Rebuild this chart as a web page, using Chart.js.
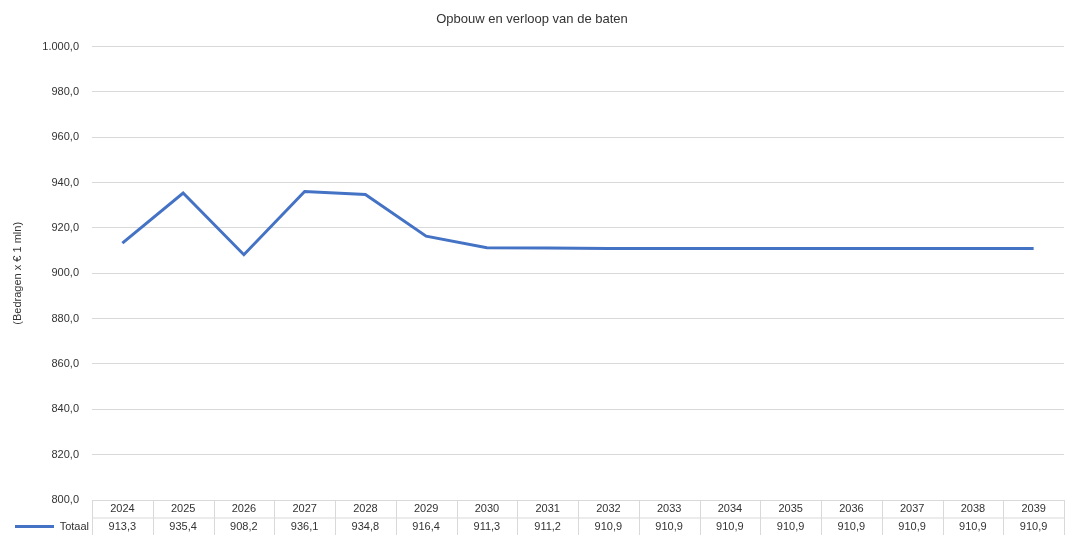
<!DOCTYPE html>
<html>
<head>
<meta charset="utf-8">
<script src="https://cdn.jsdelivr.net/npm/chart.js@4"></script>
<style>
  html, body { margin: 0; padding: 0; background: #fff; }
  #wrap { width: 1065px; height: 535px; }
</style>
</head>
<body>
<div id="wrap"><canvas id="myChart"></canvas></div>
<script>
// data
var years = ['2024', '2025', '2026', '2027', '2028', '2029', '2030', '2031',
             '2032', '2033', '2034', '2035', '2036', '2037', '2038', '2039'];
var totaal = [913.3, 935.4, 908.2, 936.1, 934.8, 916.4, 911.3, 911.2,
              910.9, 910.9, 910.9, 910.9, 910.9, 910.9, 910.9, 910.9];
var seriesName = 'Totaal';
var yMin = 800, yMax = 1000, yStep = 20;

var lineColor = '#4472C4';
var textColor = '#333333';
var gridColor = '#d9d9d9';

// dutch number format: 1.000,0
function fmt(v) {
    var s = Number(v).toFixed(1).split('.');
    var intPart = s[0].replace(/\B(?=(\d{3})+(?!\d))/g, '.');
    return intPart + ',' + s[1];
}

// draws the data table under the plot, column positions come from the x scale
var dataTable = {
    id: 'dataTable',
    afterDraw: function (chart) {
        var c = chart.ctx;
        var x = chart.scales.x;
        var area = chart.chartArea;
        var colW = area.width / years.length;
        var top = area.bottom;
        var mid = top + 17.5;
        var bot = top + 35;

        c.save();
        c.strokeStyle = gridColor;
        c.lineWidth = 1;
        c.beginPath();
        c.moveTo(area.left, top + 0.5);
        c.lineTo(area.right, top + 0.5);
        c.moveTo(area.left, mid + 0.5);
        c.lineTo(area.right, mid + 0.5);
        for (var i = 0; i <= years.length; i++) {
            var bx = Math.round(area.left + i * colW) + 0.5;
            c.moveTo(bx, top);
            c.lineTo(bx, bot);
        }
        c.stroke();

        c.fillStyle = textColor;
        c.font = '11px "Liberation Sans", Arial, sans-serif';
        c.textAlign = 'center';
        c.textBaseline = 'middle';
        for (var j = 0; j < years.length; j++) {
            var cx = x.getPixelForValue(j);
            c.fillText(years[j], cx, top + 9);
            c.fillText(fmt(totaal[j]), cx, mid + 9);
        }

        // legend key
        c.strokeStyle = lineColor;
        c.lineWidth = 3;
        c.beginPath();
        c.moveTo(15, mid + 9);
        c.lineTo(54, mid + 9);
        c.stroke();
        c.textAlign = 'right';
        c.fillText(seriesName, area.left - 3, mid + 9);
        c.restore();
    }
};

var ctx = document.getElementById('myChart').getContext('2d');
var chart = new Chart(ctx, {
    type: 'line',
    data: {
        labels: years,
        datasets: [{
            label: seriesName,
            data: totaal,
            borderColor: lineColor,
            backgroundColor: lineColor,
            borderWidth: 3,
            pointRadius: 0,
            tension: 0
        }]
    },
    options: {
        responsive: true,
        maintainAspectRatio: false,
        animation: false,
        layout: { padding: { left: 0, right: 1, bottom: 35 } },
        plugins: {
            legend: { display: false },
            tooltip: { enabled: false },
            title: {
                display: true,
                text: 'Opbouw en verloop van de baten',
                color: textColor,
                font: { family: '"Liberation Sans", Arial, sans-serif', size: 13, weight: 'normal' },
                padding: { top: 12, bottom: 19 }
            }
        },
        scales: {
            x: {
                display: false,
                offset: true
            },
            y: {
                min: yMin,
                max: yMax,
                afterFit: function (scale) { scale.width = 92; },
                border: { display: false },
                grid: { color: gridColor, drawTicks: false },
                ticks: {
                    stepSize: yStep,
                    padding: 13,
                    color: textColor,
                    font: { family: '"Liberation Sans", Arial, sans-serif', size: 11 },
                    callback: function (v) { return fmt(v); }
                },
                title: {
                    display: true,
                    text: '(Bedragen x € 1 mln)',
                    color: textColor,
                    font: { family: '"Liberation Sans", Arial, sans-serif', size: 11 },
                    padding: { top: 11, bottom: 0 }
                }
            }
        }
    },
    plugins: [dataTable]
});
</script>
</body>
</html>
